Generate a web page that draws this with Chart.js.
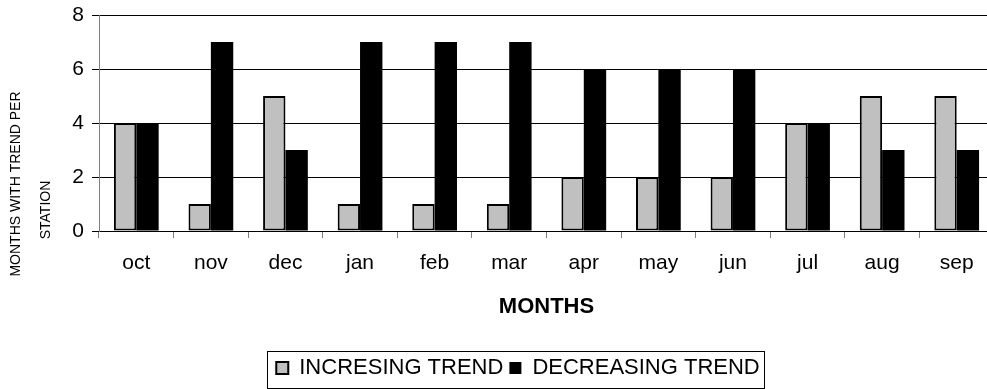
<!DOCTYPE html>
<html>
<head>
<meta charset="utf-8">
<script src="https://cdn.jsdelivr.net/npm/chart.js@4"></script>
<style>
  html, body { margin: 0; padding: 0; background: #fff; overflow: hidden; }
  #wrap { width: 1000px; height: 389px; }
</style>
</head>
<body>
<div id="wrap"><canvas id="chart"></canvas></div>
<script>
const months = ['oct', 'nov', 'dec', 'jan', 'feb', 'mar', 'apr', 'may', 'jun', 'jul', 'aug', 'sep'];
const increasing = [4, 1, 5, 1, 1, 1, 2, 2, 2, 4, 5, 5];
const decreasing = [4, 7, 3, 7, 7, 7, 6, 6, 6, 4, 3, 3];
const yTicks = [0, 2, 4, 6, 8];

const FONT = 'Liberation Sans, Arial, sans-serif';

// vertical axis caption, two lines set by hand
const yCaption = {
  id: 'yCaption',
  afterDraw(chart) {
    const ctx = chart.ctx;
    const line = (text, x, y) => {
      ctx.save();
      ctx.font = '14px ' + FONT;
      ctx.fillStyle = '#000';
      ctx.textAlign = 'center';
      ctx.textBaseline = 'middle';
      ctx.translate(x, y);
      ctx.rotate(-Math.PI / 2);
      ctx.fillText(text, 0, 0);
      ctx.restore();
    };
    line('MONTHS WITH TREND PER', 16, 184);
    line('STATION', 46, 210);
  }
};

// frame around the legend items
const legendFrame = {
  id: 'legendFrame',
  afterDraw(chart) {
    const boxes = chart.legend.legendHitBoxes;
    if (!boxes || !boxes.length) return;
    const left = Math.min(...boxes.map(b => b.left)) - 9;
    const right = Math.max(...boxes.map(b => b.left + b.width)) + 5;
    const top = Math.min(...boxes.map(b => b.top)) - 6;
    const ctx = chart.ctx;
    ctx.save();
    ctx.strokeStyle = '#000';
    ctx.lineWidth = 1;
    ctx.strokeRect(Math.round(left) + 0.5, Math.round(top) + 0.5, Math.round(right - left), 37);
    ctx.restore();
  }
};

new Chart(document.getElementById('chart'), {
  type: 'bar',
  data: {
    labels: months,
    datasets: [{
      label: 'INCRESING TREND',
      data: increasing,
      backgroundColor: '#c0c0c0',
      borderColor: '#000',
      borderWidth: 2,
      borderSkipped: false
    }, {
      label: 'DECREASING TREND',
      data: decreasing,
      backgroundColor: '#000',
      borderColor: '#000',
      borderWidth: 0
    }]
  },
  options: {
    responsive: true,
    maintainAspectRatio: false,
    animation: false,
    layout: { padding: { left: 42, right: 6, top: 15, bottom: 0 } },
    datasets: { bar: { categoryPercentage: 0.6, barPercentage: 1.0 } },
    scales: {
      x: {
        offset: true,
        grid: { offset: true, drawOnChartArea: false, color: '#808080', tickLength: 7 },
        border: { color: '#000', width: 1 },
        ticks: { color: '#000', font: { family: FONT, size: 21 }, padding: 13 },
        title: { display: true, text: 'MONTHS', color: '#000', font: { family: FONT, size: 22, weight: 'bold' }, padding: { top: 10, bottom: 31 } },
        afterFit(scale) { scale.height = 120; }
      },
      y: {
        min: 0,
        max: 8,
        afterBuildTicks(scale) { scale.ticks = yTicks.map(v => ({ value: v })); },
        grid: { color: '#000', tickLength: 7, lineWidth: 1 },
        border: { color: '#808080', width: 1 },
        ticks: { color: '#000', font: { family: FONT, size: 21 }, padding: 8 },
        afterFit(scale) {
          scale.width = 57;
          scale.paddingTop = 0;
          scale.paddingBottom = 0;
        }
      }
    },
    plugins: {
      legend: {
        position: 'bottom',
        labels: {
          color: '#000',
          font: { family: FONT, size: 22 },
          boxWidth: 12,
          boxHeight: 12,
          padding: 6
        }
      },
      tooltip: { enabled: false }
    }
  },
  plugins: [yCaption, legendFrame]
});
</script>
</body>
</html>
